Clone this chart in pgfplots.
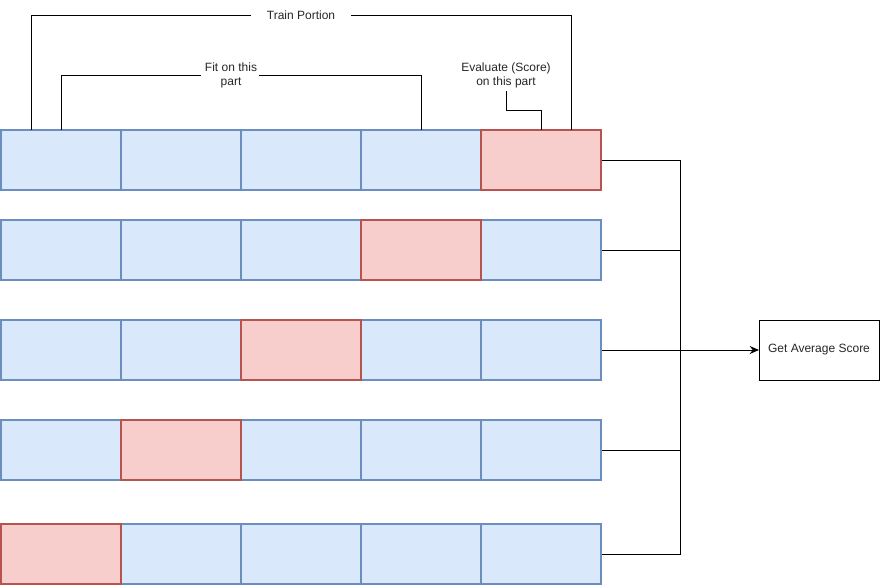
\documentclass[border=0pt]{standalone}
\usepackage{pgfplots}
\pgfplotsset{compat=1.18}
\usepackage{fontspec}
\setmainfont{Liberation Sans}
\usetikzlibrary{arrows.meta}
\definecolor{bfill}{HTML}{DAE8FC}
\definecolor{bdraw}{HTML}{6C8EBF}
\definecolor{rfill}{HTML}{F8CECC}
\definecolor{rdraw}{HTML}{B85450}
\tikzset{
  blue cell/.style={fill=bfill, draw=bdraw, line width=1.5pt},
  red cell/.style={fill=rfill, draw=rdraw, line width=1.5pt},
  conn/.style={black, line width=0.75pt},
  lbl/.style={font=\fontsize{9}{10.5}\selectfont, align=center, text=black!85},
}
\begin{document}
\begin{tikzpicture}
\begin{axis}[
  name=ax,
  hide axis, scale only axis, clip=false,
  width=660pt, height=439.5pt,
  xmin=0, xmax=880, ymin=0, ymax=586, y dir=reverse,
  every axis plot/.append style={line join=miter},
]
% row 1 (test fold 5)
\addplot[blue cell] coordinates {(1,130) (121,130) (121,190) (1,190)} -- cycle;
\addplot[blue cell] coordinates {(121,130) (241,130) (241,190) (121,190)} -- cycle;
\addplot[blue cell] coordinates {(241,130) (361,130) (361,190) (241,190)} -- cycle;
\addplot[blue cell] coordinates {(361,130) (481,130) (481,190) (361,190)} -- cycle;
\addplot[red cell]  coordinates {(481,130) (601,130) (601,190) (481,190)} -- cycle;
% row 2 (test fold 4)
\addplot[blue cell] coordinates {(1,220) (121,220) (121,280) (1,280)} -- cycle;
\addplot[blue cell] coordinates {(121,220) (241,220) (241,280) (121,280)} -- cycle;
\addplot[blue cell] coordinates {(241,220) (361,220) (361,280) (241,280)} -- cycle;
\addplot[blue cell] coordinates {(481,220) (601,220) (601,280) (481,280)} -- cycle;
\addplot[red cell]  coordinates {(361,220) (481,220) (481,280) (361,280)} -- cycle;
% row 3 (test fold 3)
\addplot[blue cell] coordinates {(1,320) (121,320) (121,380) (1,380)} -- cycle;
\addplot[blue cell] coordinates {(121,320) (241,320) (241,380) (121,380)} -- cycle;
\addplot[blue cell] coordinates {(361,320) (481,320) (481,380) (361,380)} -- cycle;
\addplot[blue cell] coordinates {(481,320) (601,320) (601,380) (481,380)} -- cycle;
\addplot[red cell]  coordinates {(241,320) (361,320) (361,380) (241,380)} -- cycle;
% row 4 (test fold 2)
\addplot[blue cell] coordinates {(1,420) (121,420) (121,480) (1,480)} -- cycle;
\addplot[blue cell] coordinates {(241,420) (361,420) (361,480) (241,480)} -- cycle;
\addplot[blue cell] coordinates {(361,420) (481,420) (481,480) (361,480)} -- cycle;
\addplot[blue cell] coordinates {(481,420) (601,420) (601,480) (481,480)} -- cycle;
\addplot[red cell]  coordinates {(121,420) (241,420) (241,480) (121,480)} -- cycle;
% row 5 (test fold 1)
\addplot[blue cell] coordinates {(121,524) (241,524) (241,584) (121,584)} -- cycle;
\addplot[blue cell] coordinates {(241,524) (361,524) (361,584) (241,584)} -- cycle;
\addplot[blue cell] coordinates {(361,524) (481,524) (481,584) (361,584)} -- cycle;
\addplot[blue cell] coordinates {(481,524) (601,524) (601,584) (481,584)} -- cycle;
\addplot[red cell]  coordinates {(1,524) (121,524) (121,584) (1,584)} -- cycle;
% Train Portion bracket
\addplot[conn] coordinates {(31,130) (31,15) (251,15)};
\addplot[conn] coordinates {(351,15) (571,15) (571,130)};
\node[lbl] at (axis cs:301,15) {Train Portion};
% Fit bracket
\addplot[conn] coordinates {(61,130) (61,75) (201,75)};
\addplot[conn] coordinates {(259,75) (421,75) (421,130)};
\node[lbl] at (axis cs:231,75.5) {Fit on this\\part};
% Evaluate
\addplot[conn] coordinates {(506,91) (506,110) (541,110) (541,130)};
\node[lbl] at (axis cs:506,75.5) {Evaluate (Score)\\on this part};
% connectors
\addplot[conn] coordinates {(602,160) (680,160) (680,554) (602,554)};
\addplot[conn] coordinates {(602,250) (680,250)};
\addplot[conn] coordinates {(602,450) (680,450)};
\addplot[conn, -{Stealth[length=7pt,width=6pt]}] coordinates {(602,350) (759,350)};
% result box
\addplot[conn] coordinates {(759,320) (879,320) (879,380) (759,380)} -- cycle;
\node[lbl] at (axis cs:819,350) {Get Average Score};
\end{axis}
\pgfresetboundingbox
\useasboundingbox (ax.south west) rectangle (ax.north east);
\end{tikzpicture}
\end{document}
